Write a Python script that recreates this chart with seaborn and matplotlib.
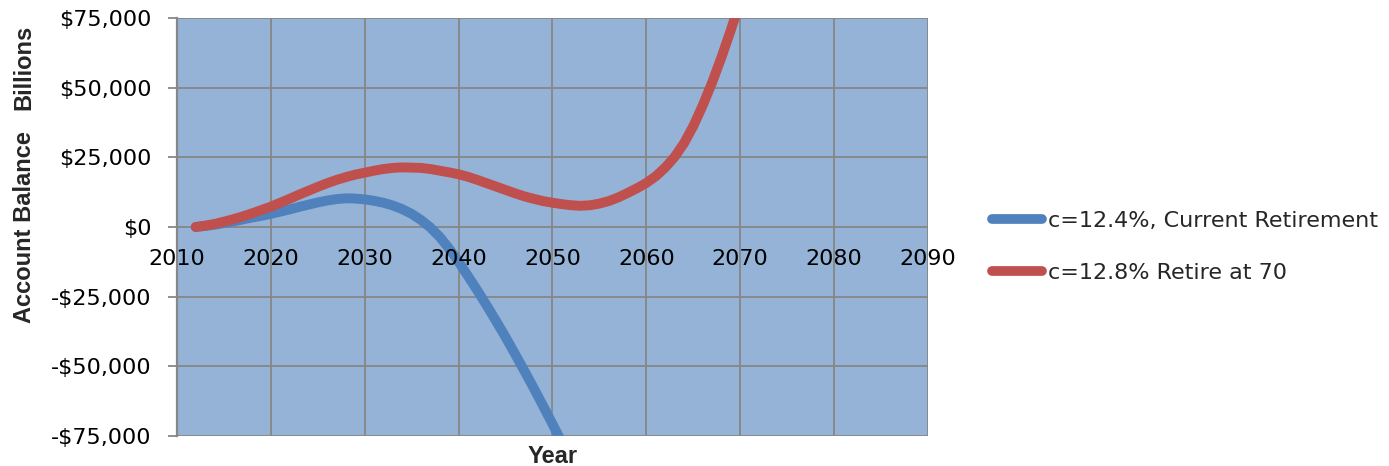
import matplotlib
matplotlib.use("Agg")
import matplotlib.pyplot as plt
from matplotlib.lines import Line2D
from matplotlib.ticker import FuncFormatter
import pandas as pd
import seaborn as sns

# Trust fund account balance projections (billions of dollars)
years_current = list(range(2012, 2052))
balance_current = [
    0, 350, 800, 1400, 2000, 2700, 3400, 4000, 4700, 5500,
    6300, 7200, 8000, 8800, 9500, 10000, 10300, 10200, 9900, 9400,
    8700, 7700, 6400, 4700, 2500, -200, -3600, -7800, -12500, -17600,
    -22800, -28200, -33800, -39500, -45500, -51600, -57800, -64200, -70700, -77300,
]

years_retire70 = list(range(2012, 2071))
balance_retire70 = [
    0, 500, 1100, 1900, 2800, 3800, 4900, 6100, 7300, 8700,
    10100, 11600, 13000, 14400, 15700, 16900, 17900, 18800, 19500, 20200,
    20800, 21200, 21400, 21300, 21200, 20800, 20200, 19600, 18900, 18000,
    16900, 15700, 14500, 13300, 12100, 11000, 10100, 9300, 8700, 8200,
    7800, 7600, 7800, 8400, 9300, 10600, 12200, 13900, 15800, 18200,
    21300, 25100, 30000, 36200, 43600, 51800, 60900, 70700, 81000,
]

series_labels = ["c=12.4%, Current Retirement", "c=12.8% Retire at 70"]
series_colors = ["#4F81BD", "#C0504D"]
x_ticks = list(range(2010, 2091, 10))
y_ticks = list(range(-75000, 75001, 25000))

df = pd.concat([
    pd.DataFrame({"year": years_current, "balance": balance_current, "series": series_labels[0]}),
    pd.DataFrame({"year": years_retire70, "balance": balance_retire70, "series": series_labels[1]}),
], ignore_index=True)

sns.set_style("white")
plt.rcParams["font.family"] = ["DejaVu Sans"]

grid_color = "#878787"
fig = plt.figure(figsize=(13.89, 4.66), dpi=100)
ax = fig.add_axes([0.1274, 0.0644, 0.5407, 0.897])
ax.set_facecolor("#95B3D7")

sns.lineplot(
    data=df, x="year", y="balance", hue="series", hue_order=series_labels,
    palette=dict(zip(series_labels, series_colors)), estimator=None,
    linewidth=7.1, solid_capstyle="round", legend=False, ax=ax,
)

ax.set_xlim(2010, 2090)
ax.set_ylim(-75000, 75000)
ax.set_xticks(x_ticks)
ax.set_yticks(y_ticks)
ax.yaxis.set_major_formatter(
    FuncFormatter(lambda v, _: f"-${abs(v):,.0f}" if v < 0 else f"${v:,.0f}")
)

# gridlines under the data, year labels above it
ax.set_axisbelow(True)
ax.yaxis.grid(True, color=grid_color, linewidth=1.3)
ax.xaxis.grid(False)
for t in x_ticks:
    ax.axvline(t, color=grid_color, linewidth=1.3, zorder=0.6)
ax.xaxis.set_zorder(3)

# year labels sit along the zero line
ax.spines["bottom"].set_position(("data", 0))
ax.spines["bottom"].set_visible(False)
ax.spines["top"].set_visible(False)
ax.spines["right"].set_visible(False)
ax.spines["left"].set_color(grid_color)
ax.spines["left"].set_linewidth(1.6)

ax.tick_params(axis="x", length=0, pad=16, labelsize=16, colors="black")
ax.tick_params(axis="y", left=True, length=6.5, width=1.3, color=grid_color,
               pad=12, labelsize=16, labelcolor="black")

ax.set_xlabel("Year", fontsize=17, fontweight="bold", family=["Liberation Sans"])
ax.xaxis.set_label_coords(0.5, -0.021)
ax.set_ylabel("")

fig.text(0.0173, 0.513, "Account Balance", rotation=90, ha="center", va="center",
         fontsize=17, fontweight="bold", family=["Liberation Sans"])
fig.text(0.0173, 0.856, "Billions", rotation=90, ha="center", va="center",
         fontsize=17, fontweight="bold", family=["Liberation Sans"])

handles = [Line2D([], [], color=c, linewidth=7, solid_capstyle="round") for c in series_colors]
fig.legend(handles, series_labels, loc="center left", bbox_to_anchor=(0.7142, 0.470),
           frameon=False, fontsize=16, handlelength=2.25, handletextpad=0.25,
           labelspacing=1.45, borderpad=0, borderaxespad=0)

fig.savefig("out.png", dpi=100, facecolor="white")
